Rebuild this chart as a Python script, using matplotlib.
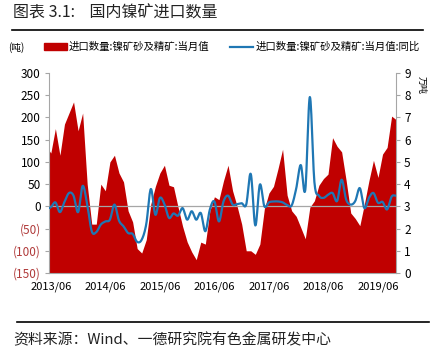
import numpy as np
import matplotlib
matplotlib.use("Agg")
import matplotlib.pyplot as plt
from matplotlib.lines import Line2D
from matplotlib.patches import Patch

plt.rcParams['font.family'] = ['Noto Sans CJK SC', 'DejaVu Sans']

# 月度数据：2013/05 - 2019/10
start_year, start_month = 2013, 5

# 进口数量:镍矿砂及精矿:当月值 (右轴)
imports = [5.7, 5.4, 6.5, 5.3, 6.7, 7.2, 7.7, 6.4, 7.2, 4.0,
           2.2, 2.2, 4.0, 3.7, 5.0, 5.3, 4.5, 4.1, 2.8, 2.3,
           1.1, 0.9, 1.5, 3.1, 3.9, 4.5, 4.85, 3.95, 3.88, 2.96,
           2.1, 1.4, 0.95, 0.6, 1.39, 1.3, 2.8, 3.43, 3.3, 4.15,
           4.85, 3.7, 3.0, 2.2, 1.0, 1.0, 0.84, 1.3, 2.9, 3.6,
           3.9, 4.7, 5.57, 3.5, 2.8, 2.55, 2.05, 1.54, 2.96, 3.25,
           3.95, 4.25, 4.45, 6.09, 5.7, 5.45, 4.15, 2.7, 2.45, 2.13,
           3.1, 4.15, 5.07, 4.3, 5.35, 5.65, 7.06, 6.9]

# 同比 (左轴)
yoy = [-5, -2, 9, -13, 10, 30, 24, -13, 46, 5,
       -56, -58, -41, -34, -30, 4, -32, -45, -60, -62,
       -80, -75, -40, 39, -19, 19, 5, -26, -16, -21,
       -4, -30, -11, -30, -15, -56, -7, 11, -34, 11,
       24, 4, 5, 7, 4, 73, -43, 49, 0, 9,
       11, 11, 9, 3, 2, 40, 93, 37, 246, 55,
       24, 19, 26, 30, 12, 60, 15, 4, 12, 41,
       -4, 19, 30, 8, 10, -7, 22, 24]

tick_labels = ['2013/06', '2014/06', '2015/06', '2016/06', '2017/06', '2018/06', '2019/06']
tick_pos = [1 + 12 * k for k in range(len(tick_labels))]

left_ticks = [300, 250, 200, 150, 100, 50, 0, -50, -100, -150]
right_ticks = list(range(10))

red = '#C00000'
blue = '#1F77B4'
grey = '#A6A6A6'


def smooth(x, y, n=12):
    # Catmull-Rom 平滑曲线（类似 Excel 平滑线）
    x = np.asarray(x, float)
    y = np.asarray(y, float)
    px = np.concatenate([[2 * x[0] - x[1]], x, [2 * x[-1] - x[-2]]])
    py = np.concatenate([[2 * y[0] - y[1]], y, [2 * y[-1] - y[-2]]])
    t = np.linspace(0, 1, n, endpoint=False)
    xs, ys = [], []
    for i in range(1, len(px) - 2):
        for p, out in ((px, xs), (py, ys)):
            p0, p1, p2, p3 = p[i - 1], p[i], p[i + 1], p[i + 2]
            out.extend(0.5 * (2 * p1 + (-p0 + p2) * t
                              + (2 * p0 - 5 * p1 + 4 * p2 - p3) * t ** 2
                              + (-p0 + 3 * p1 - 3 * p2 + p3) * t ** 3))
    xs.append(x[-1])
    ys.append(y[-1])
    return np.array(xs), np.array(ys)


x = np.arange(len(imports))

fig = plt.figure(figsize=(4.33, 3.52), dpi=100)
ax = fig.add_axes([0.1132, 0.2244, 0.8007, 0.5682])
ax2 = ax.twinx()

# 红色面积（右轴）
ax.fill_between(x, 0, imports, color=red, lw=0)
ax.set_ylim(0, 9)
ax.set_xlim(0.6, 76.9)
ax.yaxis.tick_right()
ax.yaxis.set_label_position('right')
ax.set_yticks(right_ticks)
ax.tick_params(axis='y', labelsize=8.5, color=grey, length=3, pad=3)
ax.set_xticks(tick_pos)
ax.set_xticklabels(tick_labels)
ax.tick_params(axis='x', labelsize=8, length=0, pad=6)
ax.spines['top'].set_visible(False)
for s in ['left', 'right', 'bottom']:
    ax.spines[s].set_color(grey)
    ax.spines[s].set_linewidth(0.8)
fig.text(0.963, 0.758, '万吨', rotation=270, fontsize=6.5, va='center', ha='left')

# 蓝色同比线（左轴）
ax2.yaxis.tick_left()
ax2.yaxis.set_label_position('left')
ax2.set_ylim(-150, 300)
ax2.set_yticks(left_ticks)
ax2.set_yticklabels([str(v) if v >= 0 else '(%d)' % -v for v in left_ticks])
for lab, v in zip(ax2.get_yticklabels(), left_ticks):
    if v < 0:
        lab.set_color('#B03A3A')
ax2.tick_params(axis='y', labelsize=8.5, color=grey, length=3, pad=3)
for s in ax2.spines.values():
    s.set_visible(False)
ax2.axhline(0, color=grey, lw=0.9, zorder=1)
sx, sy = smooth(x, yoy)
ax2.plot(sx, sy, color=blue, lw=1.6, zorder=3)

# 图例
handles = [Patch(color=red), Line2D([0], [0], color=blue, lw=1.6)]
labels = ['进口数量:镍矿砂及精矿:当月值', '进口数量:镍矿砂及精矿:当月值:同比']
fig.legend(handles, labels, loc='center', bbox_to_anchor=(0.535, 0.866), ncol=2,
           frameon=False, fontsize=7.5, handlelength=2.2, handleheight=0.6,
           columnspacing=2.0, handletextpad=0.2)
fig.text(0.018, 0.866, '(吨)', fontsize=7, va='center', ha='left')

# 标题与来源
fig.text(0.03, 0.964, '图表 3.1:    国内镍矿进口数量', fontsize=11.5, va='center', ha='left',
         color='#222222')
fig.add_artist(Line2D([0.028, 0.978], [0.915, 0.915], color='black', lw=1.2))
fig.add_artist(Line2D([0.04, 0.99], [0.086, 0.086], color='black', lw=1.2))
fig.text(0.03, 0.034, '资料来源：Wind、一德研究院有色金属研发中心', fontsize=10.7,
         va='center', ha='left', color='#222222')

fig.savefig('out.png', dpi=100)
